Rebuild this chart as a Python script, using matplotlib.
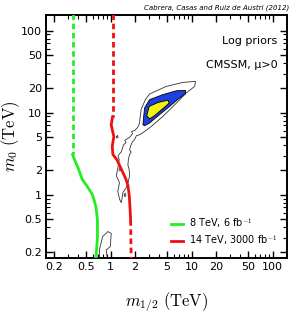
import matplotlib
matplotlib.use('Agg')
import matplotlib.pyplot as plt
from matplotlib.ticker import FixedLocator, FixedFormatter, LogLocator, NullFormatter

plt.rcParams['mathtext.fontset'] = 'cm'

# reach of the LHC searches (m_1/2, m0) in TeV
green_dash_x = [0.34, 0.34]
green_dash_y = [160, 3.1]
green_x = [0.34, 0.36, 0.40, 0.45, 0.52, 0.60, 0.66, 0.69, 0.69, 0.67, 0.66]
green_y = [3.1, 2.67, 2.1, 1.53, 1.25, 1.0, 0.72, 0.5, 0.3, 0.2, 0.16]

red_dash_top_x = [1.06, 1.06]
red_dash_top_y = [160, 8.9]
red_x = [1.06, 1.02, 1.10, 1.05, 1.07, 1.20, 1.36, 1.55, 1.64, 1.70, 1.74, 1.77]
red_y = [8.9, 7.1, 5.1, 3.9, 3.1, 2.67, 2.05, 1.55, 1.3, 1.0, 0.7, 0.49]
red_dash_bot_x = [1.77, 1.80]
red_dash_bot_y = [0.49, 0.16]

# posterior credible regions (log priors)
outer_x = [11.2, 10.9, 8.6, 6.5, 4.42, 3.18, 2.63, 2.3, 2.09, 1.95, 1.87, 1.78, 1.72, 1.80,
           1.72, 1.66, 1.64, 1.70, 1.72, 1.64, 1.55, 1.42, 1.36, 1.30, 1.23, 1.29,
           1.18, 1.22, 1.28, 1.24, 1.36, 1.45, 1.55, 1.50, 1.62, 1.75, 1.87, 1.82,
           2.0, 2.15, 2.28, 2.30, 2.39, 2.7, 3.03, 4.87, 7.81]
outer_y = [24.1, 20.9, 17.4, 13.1, 9.0, 6.8, 5.9, 5.4, 5.25, 4.6, 4.43, 4.0, 3.54, 3.3,
           3.1, 2.67, 2.3, 2.02, 1.7, 1.40, 1.2, 1.06, 0.80, 0.87, 1.1, 1.40,
           1.7, 2.02, 2.67, 3.0, 3.34, 4.07, 4.3, 4.6, 4.82, 5.1, 5.55, 5.9,
           6.1, 6.56, 7.4, 8.22, 11.0, 14.5, 16.9, 20.9, 23.4]
blue_x = [2.51, 2.63, 3.03, 4.42, 6.5, 8.43, 8.43, 7.11, 5.34, 4.02, 3.03, 2.63]
blue_y = [7.14, 11.4, 14.4, 16.6, 18.5, 18.7, 17.1, 15.1, 11.9, 9.46, 7.48, 6.93]
yellow_x = [2.80, 3.0, 3.84, 5.1, 5.3, 4.42, 3.49, 3.03]
yellow_y = [9.2, 11.9, 13.3, 14.2, 13.1, 11.2, 9.2, 8.4]
small_x = [0.73, 0.73, 0.80, 0.93, 1.02, 0.996, 0.885, 0.918]
small_y = [0.16, 0.213, 0.31, 0.356, 0.339, 0.234, 0.213, 0.16]
# little islands along the tail of the outer region
island_x = [[1.20, 1.24, 1.22, 1.18], [1.30, 1.34, 1.31, 1.27], [1.50, 1.55, 1.52, 1.47]]
island_y = [[4.9, 5.0, 5.3, 5.1], [1.95, 2.0, 2.15, 2.05], [0.95, 0.97, 1.05, 1.0]]

ticks = [0.2, 0.5, 1, 2, 5, 10, 20, 50, 100]
tick_labels = ['0.2', '0.5', '1', '2', '5', '10', '20', '50', '100']

fig = plt.figure(figsize=(2.91, 3.13), dpi=100)
ax = fig.add_axes([0.158, 0.176, 0.828, 0.776])

ax.fill(outer_x, outer_y, facecolor='white', edgecolor='#333333', lw=0.6, zorder=2)
for ix, iy in zip(island_x, island_y):
    ax.fill(ix, iy, facecolor='white', edgecolor='#333333', lw=0.6, zorder=2)
ax.fill(blue_x, blue_y, facecolor='#1f3fe0', edgecolor='black', lw=0.6, zorder=3)
ax.fill(yellow_x, yellow_y, facecolor='#f5f50a', edgecolor='black', lw=0.6, zorder=4)
ax.plot(small_x, small_y, color='#333333', lw=0.6, zorder=2)

ax.plot(green_dash_x, green_dash_y, color='#22ee22', lw=2, ls=(0, (2, 1.3)), zorder=5)
ax.plot(green_x, green_y, color='#22ee22', lw=2, zorder=5, label='8 TeV, 6 fb$^{-1}$')
ax.plot(red_dash_top_x, red_dash_top_y, color='#ee1111', lw=2, ls=(0, (2, 1.3)), zorder=5)
ax.plot(red_x, red_y, color='#ee1111', lw=2, zorder=5, label='14 TeV, 3000 fb$^{-1}$')
ax.plot(red_dash_bot_x, red_dash_bot_y, color='#ee1111', lw=2, ls=(0, (2, 1.3)), zorder=5)

ax.set_xscale('log')
ax.set_yscale('log')
ax.set_xlim(0.16, 150)
ax.set_ylim(0.17, 155)

for axis in (ax.xaxis, ax.yaxis):
    axis.set_major_locator(FixedLocator(ticks))
    axis.set_major_formatter(FixedFormatter(tick_labels))
    axis.set_minor_locator(LogLocator(base=10, subs=range(1, 10)))
    axis.set_minor_formatter(NullFormatter())
ax.tick_params(which='both', direction='in', top=True, right=True, labelsize=8, pad=3)
ax.tick_params(which='major', length=5, width=1)
ax.tick_params(which='minor', length=3, width=0.8)
for s in ax.spines.values():
    s.set_linewidth(1.4)

ax.set_xlabel(r'$m_{1/2}\ (\mathrm{TeV})$', fontsize=12)
ax.set_ylabel(r'$m_0\ (\mathrm{TeV})$', fontsize=12)
ax.xaxis.set_label_coords(0.5, -0.135)
ax.yaxis.set_label_coords(-0.1, 0.5)

ax.text(0.96, 0.893, 'Log priors', transform=ax.transAxes, ha='right', va='center', fontsize=8)
ax.text(0.96, 0.794, 'CMSSM, \u03bc>0', transform=ax.transAxes, ha='right', va='center', fontsize=8)
fig.text(0.993, 0.987, 'Cabrera, Casas and Ruiz de Austri (2012)', ha='right', va='top',
         fontsize=5.0, style='italic')

ax.legend(loc='lower right', frameon=False, fontsize=7, handlelength=1.2,
          handletextpad=0.6, borderaxespad=0.6, labelspacing=0.3)

fig.savefig('out.png', dpi=100)
